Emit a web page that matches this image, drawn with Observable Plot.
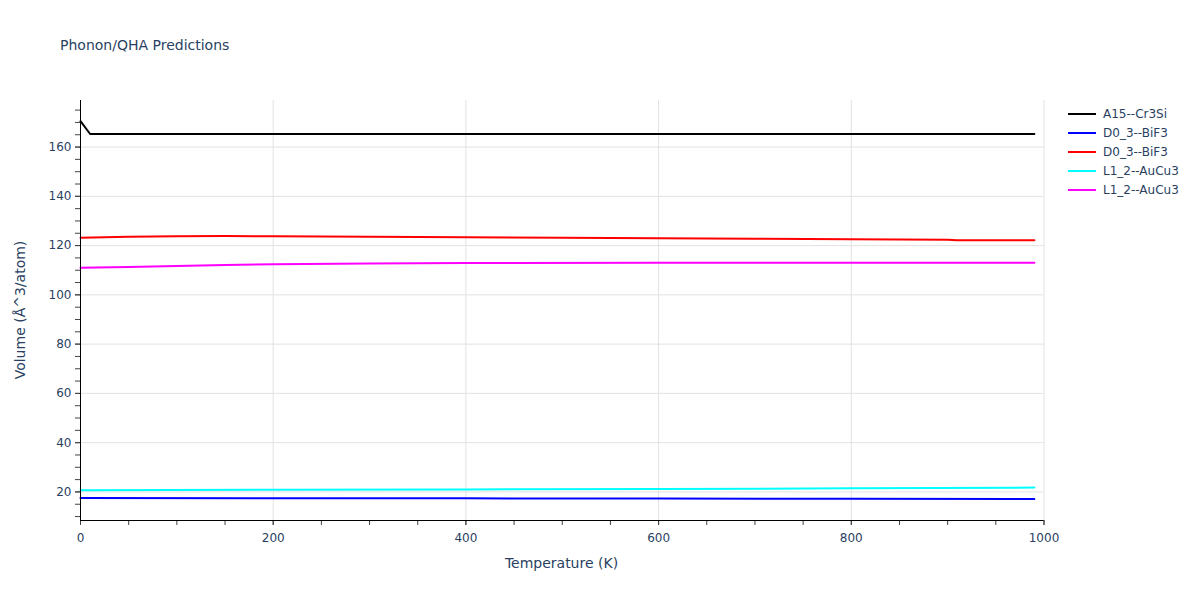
<!DOCTYPE html>
<html>
<head>
<meta charset="utf-8">
<script src="https://cdn.jsdelivr.net/npm/d3@7"></script>
<script src="https://cdn.jsdelivr.net/npm/@observablehq/plot@0.6"></script>
<style>
  html, body { margin: 0; padding: 0; background: #fff; }
  #wrap { position: relative; width: 1200px; height: 600px; font-family: "DejaVu Sans", Verdana, Arial, sans-serif; color: #2a3f5f; }
  #title { position: absolute; left: 60px; top: 37px; font-size: 14px; color: #2a3f5f; white-space: nowrap; }
  #xtitle { position: absolute; left: 0; width: 1123px; text-align: center; top: 555px; font-size: 14px; }
  #ytitle { position: absolute; left: 20px; top: 310px; font-size: 14px; transform: translate(-50%, -50%) rotate(-90deg); white-space: nowrap; }
  #legend { position: absolute; left: 1068px; top: 104px; font-size: 12px; }
  .item { display: flex; align-items: center; height: 19px; }
  .sw { width: 28px; height: 2px; margin-right: 7px; }
  svg { position: absolute; left: 0; top: 0; }
</style>
</head>
<body>
<div id="wrap">
  <div id="chart"></div>
  <div id="title">Phonon/QHA Predictions</div>
  <div id="xtitle">Temperature (K)</div>
  <div id="ytitle">Volume (Å^3/atom)</div>
  <div id="legend"></div>
</div>
<script>
// Series names and colours
const seriesNames = ["A15--Cr3Si", "D0_3--BiF3", "D0_3--BiF3", "L1_2--AuCu3", "L1_2--AuCu3"];
const seriesColors = ["#000000", "#0000ff", "#ff0000", "#00ffff", "#ff00ff"];

// Temperatures (K) and values
const tBlack = [0, 10, 100, 200, 400, 600, 800, 990];
const vBlack = [170.5, 165.3, 165.3, 165.3, 165.3, 165.3, 165.3, 165.3];

const tBlue = [0, 200, 400, 600, 800, 990];
const vBlue = [17.55, 17.45, 17.4, 17.3, 17.2, 17.15];

const tRed = [0, 50, 100, 150, 200, 300, 400, 500, 600, 700, 800, 900, 910, 990];
const vRed = [123.2, 123.6, 123.8, 123.9, 123.8, 123.6, 123.4, 123.2, 123.0, 122.8, 122.6, 122.4, 122.2, 122.2];

const tCyan = [0, 200, 400, 600, 800, 990];
const vCyan = [20.7, 20.85, 21.0, 21.2, 21.45, 21.75];

const tMagenta = [0, 50, 100, 150, 200, 300, 400, 600, 800, 990];
const vMagenta = [111.0, 111.3, 111.7, 112.1, 112.4, 112.7, 112.9, 113.0, 113.0, 113.0];

// Axis ticks
const xTicks = [0, 200, 400, 600, 800, 1000];
const yTicks = [20, 40, 60, 80, 100, 120, 140, 160];
const xMinor = d3.range(0, 1001, 50);
const yMinor = d3.range(10, 179, 5);
const xDomain = [0, 1000];
const yDomain = [8.4, 178.9];

const seriesT = [tBlack, tBlue, tRed, tCyan, tMagenta];
const seriesV = [vBlack, vBlue, vRed, vCyan, vMagenta];

const rows = [];
seriesT.forEach((ts, i) => ts.forEach((t, j) => rows.push({s: i, t, v: seriesV[i][j]})));

const txt = "#2a3f5f";
const grid = "#e2e2e2";
const fmt = d => String(d);

const plot = Plot.plot({
  width: 1200,
  height: 600,
  marginLeft: 80,
  marginRight: 156.5,
  marginTop: 100,
  marginBottom: 80,
  style: {fontFamily: '"DejaVu Sans", Verdana, Arial, sans-serif', fontSize: "12px", color: txt, background: "transparent"},
  x: {domain: xDomain, label: null},
  y: {domain: yDomain, label: null},
  marks: [
    Plot.gridX(xTicks.filter(d => d > 0), {stroke: grid, strokeOpacity: 1}),
    Plot.gridY(yTicks, {stroke: grid, strokeOpacity: 1}),
    ...seriesNames.map((n, i) => Plot.line(rows.filter(r => r.s === i), {x: "t", y: "v", stroke: seriesColors[i], strokeWidth: 2})),
    Plot.axisX(xMinor, {tickSize: 5, tickFormat: () => "", stroke: "#444", label: null}),
    Plot.axisY(yMinor, {tickSize: 5, tickFormat: () => "", stroke: "#444", label: null}),
    Plot.axisX(xTicks, {tickSize: 5, tickPadding: 8, fontSize: 12, fill: txt, stroke: "#444", label: null, tickFormat: fmt}),
    Plot.axisY(yTicks, {tickSize: 5, tickPadding: 4, fontSize: 12, fill: txt, stroke: "#444", label: null, tickFormat: fmt}),
    Plot.ruleX([xDomain[0]], {stroke: "#000", strokeWidth: 1}),
    Plot.ruleY([yDomain[0]], {stroke: "#000", strokeWidth: 1})
  ]
});
document.getElementById("chart").appendChild(plot);

const legend = document.getElementById("legend");
seriesNames.forEach((n, i) => {
  const d = document.createElement("div");
  d.className = "item";
  d.innerHTML = `<span class="sw" style="background:${seriesColors[i]}"></span><span>${n}</span>`;
  legend.appendChild(d);
});
</script>
</body>
</html>
